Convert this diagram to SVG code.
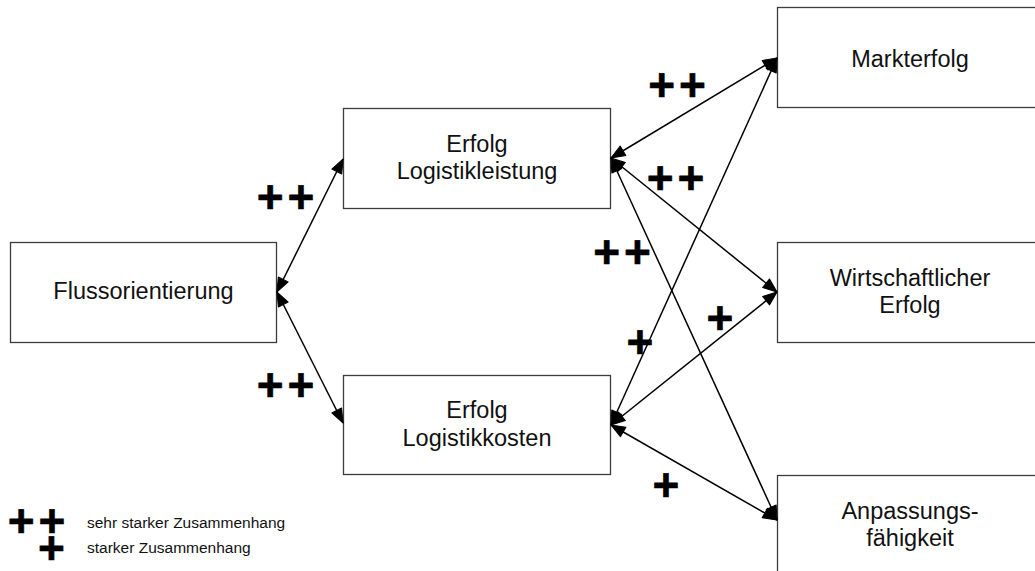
<svg xmlns="http://www.w3.org/2000/svg" width="1035" height="571" viewBox="0 0 1035 571">
  <style>
    .box { fill: #ffffff; stroke: #3c3c3c; stroke-width: 1.3; }
    .lbl { font-family: "Liberation Sans", Arial, sans-serif; font-size: 23.5px; fill: #111111; text-anchor: middle; }
    .leg { font-family: "Liberation Sans", Arial, sans-serif; font-size: 15.5px; fill: #111111; }
    .plus { font-family: "Liberation Sans", Arial, sans-serif; font-weight: bold; font-size: 46px; fill: #000000; stroke: #000000; stroke-width: 0.6; stroke-linejoin: round; text-anchor: middle; }
    .pair { letter-spacing: 4px; }
    .conn { stroke: #000000; stroke-width: 1.5; fill: none; marker-start: url(#tip); marker-end: url(#tip); }
  </style>
  <defs>
    <marker id="tip" markerUnits="userSpaceOnUse" markerWidth="16" markerHeight="14" refX="14" refY="5.5" orient="auto-start-reverse" overflow="visible">
      <path d="M0,0 L14,5.5 L0,11 z" fill="#000000" stroke="#000000" stroke-width="1" stroke-linejoin="round"/>
    </marker>
  </defs>

  <rect width="1035" height="571" fill="#ffffff"/>

  <!-- boxes -->
  <g id="flussorientierung">
    <rect class="box" x="10.5" y="242.5" width="266" height="100"/>
    <text class="lbl" x="143.5" y="299">Flussorientierung</text>
  </g>
  <g id="erfolg-logistikleistung">
    <rect class="box" x="343.5" y="108.5" width="267" height="100"/>
    <text class="lbl" x="477" y="152">Erfolg</text>
    <text class="lbl" x="477" y="179">Logistikleistung</text>
  </g>
  <g id="erfolg-logistikkosten">
    <rect class="box" x="343.5" y="375.5" width="267" height="99"/>
    <text class="lbl" x="477" y="418">Erfolg</text>
    <text class="lbl" x="477" y="446">Logistikkosten</text>
  </g>
  <g id="markterfolg">
    <rect class="box" x="777.5" y="7.5" width="267" height="100"/>
    <text class="lbl" x="910" y="67">Markterfolg</text>
  </g>
  <g id="wirtschaftlicher-erfolg">
    <rect class="box" x="777.5" y="242.5" width="267" height="100"/>
    <text class="lbl" x="910" y="286">Wirtschaftlicher</text>
    <text class="lbl" x="910" y="313">Erfolg</text>
  </g>
  <g id="anpassungsfaehigkeit">
    <rect class="box" x="777.5" y="475.5" width="267" height="100"/>
    <text class="lbl" x="910" y="519">Anpassungs-</text>
    <text class="lbl" x="910" y="546">fähigkeit</text>
  </g>

  <!-- connectors -->
  <g id="connectors">
    <line class="conn" x1="277" y1="292" x2="343" y2="159"/>
    <line class="conn" x1="277" y1="292" x2="343" y2="423"/>
    <line class="conn" x1="611" y1="158" x2="777" y2="58"/>
    <line class="conn" x1="611" y1="158" x2="777" y2="292"/>
    <line class="conn" x1="611" y1="158" x2="777" y2="520"/>
    <line class="conn" x1="611" y1="425" x2="777" y2="58"/>
    <line class="conn" x1="611" y1="425" x2="777" y2="292"/>
    <line class="conn" x1="611" y1="425" x2="777" y2="520"/>
  </g>

  <!-- strength marks (pairs offset right by half the trailing letter-spacing) -->
  <g id="marks">
    <text class="plus pair" x="287.5" y="213">++</text>
    <text class="plus pair" x="287.5" y="401">++</text>
    <text class="plus pair" x="679" y="101">++</text>
    <text class="plus pair" x="677.5" y="194">++</text>
    <text class="plus pair" x="624" y="268">++</text>
    <text class="plus" x="640" y="358">+</text>
    <text class="plus" x="720" y="334">+</text>
    <text class="plus" x="666" y="501">+</text>
  </g>

  <!-- legend -->
  <g id="legend">
    <text class="plus pair" x="38.5" y="537">++</text>
    <text class="leg" x="87" y="528">sehr starker Zusammenhang</text>
    <text class="plus" x="51.5" y="564">+</text>
    <text class="leg" x="87" y="553">starker Zusammenhang</text>
  </g>
</svg>
